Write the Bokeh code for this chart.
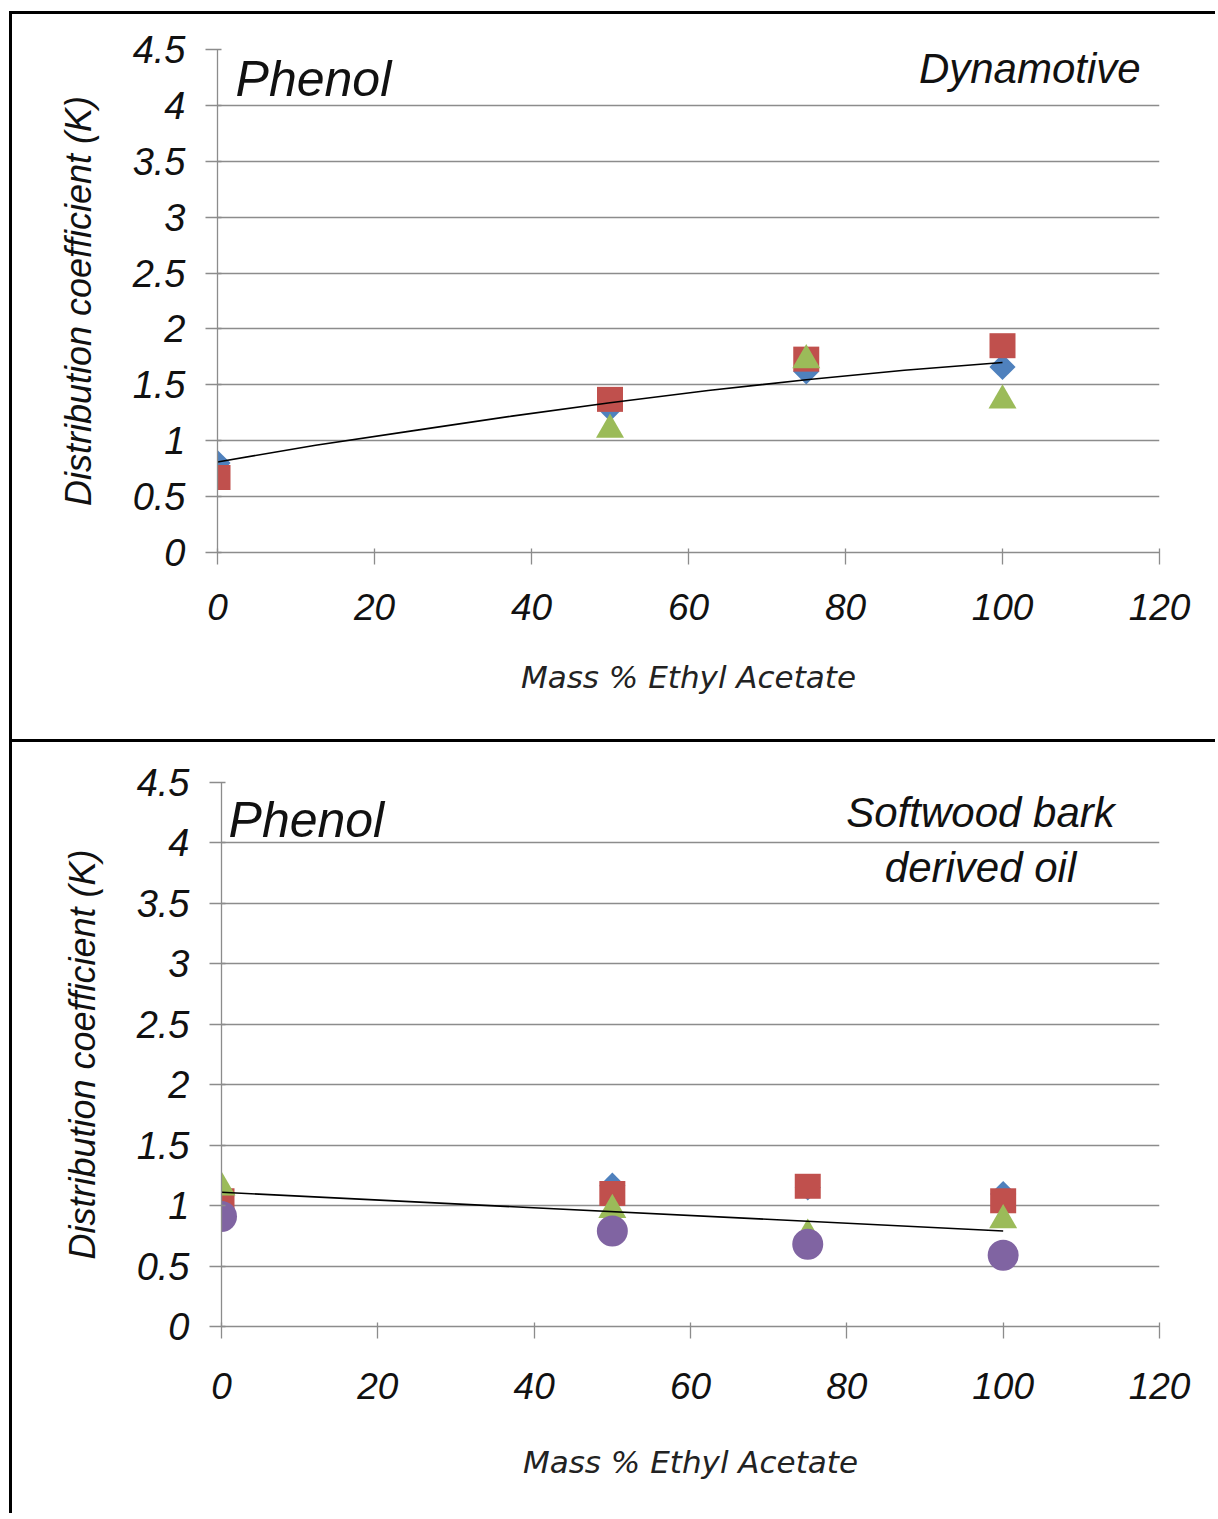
import math

from bokeh.embed import file_html
from bokeh.layouts import column, row
from bokeh.models import FixedTicker, Label, NumeralTickFormatter, Range1d
from bokeh.plotting import figure
from bokeh.resources import INLINE

# ---- data ---------------------------------------------------------------
mass_pct = [0, 50, 75, 100]                 # mass % ethyl acetate
x_ticks = [0, 20, 40, 60, 80, 100, 120]
y_ticks = [0, 0.5, 1, 1.5, 2, 2.5, 3, 3.5, 4, 4.5]

# Dynamotive oil, phenol distribution coefficient K
dyn_blue = [0.80, 1.29, 1.62, 1.66]
dyn_red = [0.67, 1.37, 1.73, 1.85]
dyn_green = [math.nan, 1.10, 1.72, 1.36]
dyn_trend_x = [0, 12.5, 25, 37.5, 50, 62.5, 75, 87.5, 100]
dyn_trend_y = [0.81, 0.96, 1.09, 1.22, 1.34, 1.45, 1.545, 1.63, 1.70]

# Softwood bark derived oil, phenol distribution coefficient K
sw_blue = [1.08, 1.165, 1.15, 1.096]
sw_red = [1.04, 1.10, 1.16, 1.04]
sw_green = [1.15, 0.965, 0.76, 0.88]
sw_purple = [0.91, 0.79, 0.68, 0.59]
sw_trend_x = [0, 100]
sw_trend_y = [1.11, 0.79]

# ---- styling ------------------------------------------------------------
BLUE = "#4F81BD"
RED = "#C0504D"
GREEN = "#9BBB59"
PURPLE = "#8064A2"
GRID = "#8C8C8C"
TICK_FONT = "Liberation Sans"


def make_panel(width, height, left, right, top, bottom, tick_standoff, title_standoff):
    p = figure(
        width=width, height=height,
        x_range=Range1d(0, 120), y_range=Range1d(0, 4.5),
        output_backend="svg", toolbar_location=None,
        min_border_left=left, min_border_right=right,
        min_border_top=top, min_border_bottom=bottom,
    )
    p.outline_line_color = None
    p.background_fill_color = "white"
    p.border_fill_color = "white"

    p.xgrid.grid_line_color = None
    p.ygrid.grid_line_color = GRID
    p.ygrid.grid_line_width = 1.3

    p.xaxis.ticker = FixedTicker(ticks=x_ticks)
    p.yaxis.ticker = FixedTicker(ticks=y_ticks)
    p.yaxis.formatter = NumeralTickFormatter(format="0.[0]")

    for ax in (p.xaxis, p.yaxis):
        ax.axis_line_color = GRID
        ax.axis_line_width = 1.3
        ax.major_tick_line_color = GRID
        ax.major_tick_line_width = 1.3
        ax.minor_tick_line_color = None
        ax.major_tick_in = 4
        ax.major_tick_out = 12
        ax.major_label_text_font = TICK_FONT
        ax.major_label_text_font_style = "italic"
        ax.major_label_text_color = "#111111"

    p.yaxis.major_label_text_font_size = "38px"
    p.xaxis.major_label_text_font_size = "37px"
    p.yaxis.major_label_standoff = 20
    p.xaxis.major_label_standoff = tick_standoff

    p.yaxis.axis_label = "Distribution coefficient (K)"
    p.yaxis.axis_label_text_font = TICK_FONT
    p.yaxis.axis_label_text_font_style = "italic"
    p.yaxis.axis_label_text_font_size = "36px"
    p.yaxis.axis_label_text_color = "#111111"
    p.yaxis.axis_label_standoff = 31

    p.xaxis.axis_label = "Mass % Ethyl Acetate"
    p.xaxis.axis_label_text_font = "DejaVu Sans"
    p.xaxis.axis_label_text_font_style = "italic"
    p.xaxis.axis_label_text_font_size = "31px"
    p.xaxis.axis_label_text_color = "#222222"
    p.xaxis.axis_label_standoff = title_standoff
    return p


def add_series(p, ys, kind, color):
    if kind == "diamond":
        p.scatter(mass_pct, ys, marker="square", size=18.5, angle=math.pi / 4,
                  fill_color=color, line_color=None)
    elif kind == "square":
        p.rect(mass_pct, ys, width=26, height=25,
               width_units="screen", height_units="screen",
               fill_color=color, line_color=None)
    elif kind == "triangle":
        p.scatter(mass_pct, ys, marker="triangle", size=28,
                  fill_color=color, line_color=None)
    elif kind == "circle":
        p.scatter(mass_pct, ys, marker="circle", size=31,
                  fill_color=color, line_color=None)


def label(p, x, y, text, size, align="left"):
    p.add_layout(Label(x=x, y=y, text=text, text_font=TICK_FONT,
                       text_font_style="italic", text_font_size=size,
                       text_align=align, text_baseline="alphabetic",
                       text_color="#111111"))


border = {"border-top": "3px solid black", "border-left": "3px solid black"}

# ---- top panel: Dynamotive ----------------------------------------------
p1 = make_panel(1206, 728, left=205, right=59, top=35, bottom=190,
                tick_standoff=29, title_standoff=36)
p1.margin = (11, 0, 0, 9)
p1.styles = border
add_series(p1, dyn_blue, "diamond", BLUE)
add_series(p1, dyn_red, "square", RED)
add_series(p1, dyn_green, "triangle", GREEN)
p1.line(dyn_trend_x, dyn_trend_y, line_color="black", line_width=1.6)

label(p1, 2.3, 4.24, "Phenol", "50px")
label(p1, 117.6, 4.33, "Dynamotive", "42px", align="right")

# ---- bottom panel: softwood bark derived oil ----------------------------
p2 = make_panel(1206, 774, left=209, right=59, top=40, bottom=190,
                tick_standoff=34, title_standoff=42)
p2.margin = (0, 0, 0, 9)
p2.styles = border
add_series(p2, sw_blue, "diamond", BLUE)
add_series(p2, sw_red, "square", RED)
add_series(p2, sw_green, "triangle", GREEN)
add_series(p2, sw_purple, "circle", PURPLE)
p2.line(sw_trend_x, sw_trend_y, line_color="black", line_width=1.6)

label(p2, 0.9, 4.19, "Phenol", "50px")
label(p2, 97.1, 4.25, "Softwood bark", "42px", align="center")
label(p2, 97.1, 3.80, "derived oil", "42px", align="center")

layout = column(row(p1), row(p2), spacing=0)
open("out.html", "w").write(file_html(layout, INLINE))
